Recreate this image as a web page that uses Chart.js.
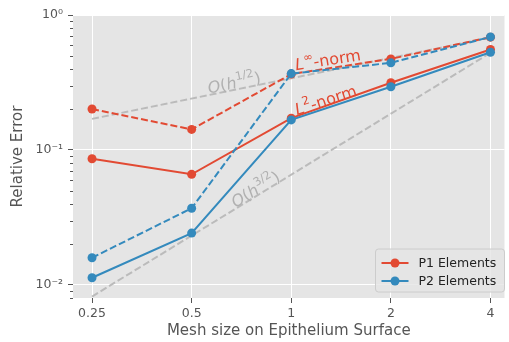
<!DOCTYPE html>
<html>
<head>
<meta charset="utf-8">
<script src="https://cdn.jsdelivr.net/npm/chart.js@4/dist/chart.umd.min.js"></script>
<style>
  html, body { margin: 0; padding: 0; background: #fff; }
  #wrap { width: 509px; height: 342px; }
</style>
</head>
<body>
<div id="wrap"><canvas id="myChart"></canvas></div>
<script>
// mesh sizes (x)
const meshSizes = [0.25, 0.5, 1, 2, 4]

// relative errors
const p1L2   = [0.086, 0.066, 0.172, 0.315, 0.555]
const p1LInf = [0.201, 0.142, 0.365, 0.473, 0.685]
const p2L2   = [0.0113, 0.0242, 0.167, 0.294, 0.530]
const p2LInf = [0.0159, 0.037, 0.368, 0.442, 0.688]

// reference slopes (end points only)
const refHalfX = [0.25, 4]
const refHalfY = [0.170, 0.680]
const refThreeHalfX = [0.25, 4]
const refThreeHalfY = [0.0082, 0.525]

const xTickValues = [0.25, 0.5, 1, 2, 4]
const xTickLabels = ['0.25', '0.5', '1', '2', '4']
const yTickValues = [0.01, 0.1, 1]
const yTickLabels = ['10\u207B\u00B2', '10\u207B\u00B9', '10\u2070']
const yMinorTicks = [0.008, 0.009, 0.02, 0.03, 0.04, 0.05, 0.06, 0.07, 0.08, 0.09,
                     0.2, 0.3, 0.4, 0.5, 0.6, 0.7, 0.8, 0.9]

const legendLabels = ['P1 Elements', 'P2 Elements']

const red = '#E24A33'
const blue = '#348ABD'
const refGray = '#BBBBBB'

// annotations: text pieces, data position, rotation
const notes = [
    {parts: [['O', 'i'], ['(', ''], ['h', 'i'], ['1/2', 's'], [')', '']], x: 0.672, y: 0.318, rot: -11.6, color: '#B0B0B0'},
    {parts: [['O', 'i'], ['(', ''], ['h', 'i'], ['3/2', 's'], [')', '']], x: 0.778, y: 0.0515, rot: -31.6, color: '#B0B0B0'},
    {parts: [['L', 'i'], ['\u221E', 's'], ['-norm', '']], x: 1.29, y: 0.47, rot: -8.6, color: red},
    {parts: [['L', 'i'], ['2', 's'], ['-norm', '']], x: 1.27, y: 0.236, rot: -18, color: red}
]

const pts = (xs, ys) => xs.map((x, i) => ({x: x, y: ys[i]}))

Chart.defaults.font.family = "'DejaVu Sans', sans-serif"

const lineSet = (label, values, color, dashed, order) => ({
    label,
    data: pts(meshSizes, values),
    borderColor: color,
    backgroundColor: color,
    borderWidth: 2,
    borderDash: dashed ? [7, 3] : [],
    pointRadius: 4.5,
    pointBorderWidth: 0,
    pointBackgroundColor: color,
    order
})

const bgPlugin = {
    id: 'bg',
    beforeDraw(chart) {
        const {ctx, chartArea: a} = chart
        ctx.save()
        ctx.fillStyle = '#fff'
        ctx.fillRect(0, 0, chart.width, chart.height)
        ctx.fillStyle = '#E5E5E5'
        ctx.fillRect(a.left, a.top, a.right - a.left, a.bottom - a.top)
        ctx.restore()
    }
}

const minorPlugin = {
    id: 'minorTicks',
    afterDraw(chart) {
        const {ctx, chartArea: a} = chart
        const y = chart.scales.y
        ctx.save()
        ctx.strokeStyle = '#555555'
        ctx.lineWidth = 1
        yMinorTicks.forEach(v => {
            const py = Math.round(y.getPixelForValue(v)) + 0.5
            ctx.beginPath()
            ctx.moveTo(a.left - 3, py)
            ctx.lineTo(a.left, py)
            ctx.stroke()
        })
        ctx.restore()
    }
}

const notePlugin = {
    id: 'notes',
    afterDatasetsDraw(chart) {
        const {ctx} = chart
        const xs = chart.scales.x, ys = chart.scales.y
        notes.forEach(n => {
            const px = xs.getPixelForValue(n.x)
            const py = ys.getPixelForValue(n.y)
            const fontFor = s => (s === 'i' ? 'italic ' : '') + (s === 's' ? '11.5px' : '16px') + " 'DejaVu Sans'"
            ctx.save()
            let w = 0
            n.parts.forEach(p => { ctx.font = fontFor(p[1]); w += ctx.measureText(p[0]).width })
            ctx.translate(px, py)
            ctx.rotate(n.rot * Math.PI / 180)
            ctx.fillStyle = n.color
            ctx.textBaseline = 'alphabetic'
            let cx = -w / 2
            n.parts.forEach(p => {
                ctx.font = fontFor(p[1])
                ctx.fillText(p[0], cx, p[1] === 's' ? -1.5 : 6)
                cx += ctx.measureText(p[0]).width
            })
            ctx.restore()
        })
    }
}

const legendPlugin = {
    id: 'boxLegend',
    afterDraw(chart) {
        const {ctx, chartArea: a} = chart
        const bw = 129, bh = 43
        const bx = a.right - bw, by = a.bottom - 6 - bh
        ctx.save()
        ctx.beginPath()
        ctx.roundRect(bx, by, bw, bh, 3)
        ctx.fillStyle = 'rgba(229,229,229,0.8)'
        ctx.fill()
        ctx.strokeStyle = '#CCCCCC'
        ctx.lineWidth = 1
        ctx.stroke()
        const colors = [red, blue]
        legendLabels.forEach((t, i) => {
            const cy = by + 14 + i * 18
            ctx.strokeStyle = colors[i]
            ctx.lineWidth = 2
            ctx.beginPath()
            ctx.moveTo(bx + 6, cy)
            ctx.lineTo(bx + 33, cy)
            ctx.stroke()
            ctx.fillStyle = colors[i]
            ctx.beginPath()
            ctx.arc(bx + 19.5, cy, 4.5, 0, Math.PI * 2)
            ctx.fill()
            ctx.fillStyle = '#222222'
            ctx.font = "12.5px 'DejaVu Sans'"
            ctx.textBaseline = 'middle'
            ctx.fillText(t, bx + 43, cy + 1)
        })
        ctx.restore()
    }
}

const config = {
    type: 'line',
    data: {
        datasets: [
            lineSet('P1 L2', p1L2, red, false, 4),
            lineSet('P1 Linf', p1LInf, red, true, 3),
            lineSet('P2 L2', p2L2, blue, false, 2),
            lineSet('P2 Linf', p2LInf, blue, true, 1),
            {label: 'O(h^1/2)', data: pts(refHalfX, refHalfY), borderColor: refGray, borderWidth: 2,
             borderDash: [7, 3], pointRadius: 0, order: 10},
            {label: 'O(h^3/2)', data: pts(refThreeHalfX, refThreeHalfY), borderColor: refGray, borderWidth: 2,
             borderDash: [7, 3], pointRadius: 0, order: 10}
        ]
    },
    options: {
        responsive: true,
        maintainAspectRatio: false,
        animation: false,
        layout: {padding: {top: 15, right: 0, left: 0, bottom: 0}},
        plugins: {legend: {display: false}, tooltip: {enabled: false}},
        scales: {
            x: {
                type: 'logarithmic',
                min: 0.219,
                max: 4.41,
                afterBuildTicks: axis => { axis.ticks = xTickValues.map(v => ({value: v})) },
                afterFit: axis => { axis.height = 44 },
                ticks: {
                    autoSkip: false,
                    maxRotation: 0,
                    padding: 3,
                    color: '#555555',
                    font: {size: 12.5},
                    callback: (v) => xTickLabels[xTickValues.indexOf(v)]
                },
                grid: {color: '#FFFFFF', lineWidth: 1, tickColor: '#555555', tickLength: 5},
                border: {display: false},
                title: {display: true, text: 'Mesh size on Epithelium Surface', color: '#555555',
                        font: {size: 15}, padding: {top: 0, bottom: 2}}
            },
            y: {
                type: 'logarithmic',
                min: 0.008,
                max: 1,
                afterBuildTicks: axis => { axis.ticks = yTickValues.map(v => ({value: v})) },
                afterFit: axis => { axis.width = 73 },
                ticks: {
                    autoSkip: false,
                    padding: 5,
                    color: '#555555',
                    font: {size: 12.5},
                    callback: (v) => yTickLabels[yTickValues.indexOf(v)]
                },
                grid: {color: '#FFFFFF', lineWidth: 1, tickColor: '#555555', tickLength: 5},
                border: {display: false},
                title: {display: true, text: 'Relative Error', color: '#555555',
                        font: {size: 15}, padding: {top: 9, bottom: 0}}
            }
        }
    },
    plugins: [bgPlugin, minorPlugin, notePlugin, legendPlugin]
}

const myChart = new Chart(document.getElementById('myChart').getContext('2d'), config)
</script>
</body>
</html>
